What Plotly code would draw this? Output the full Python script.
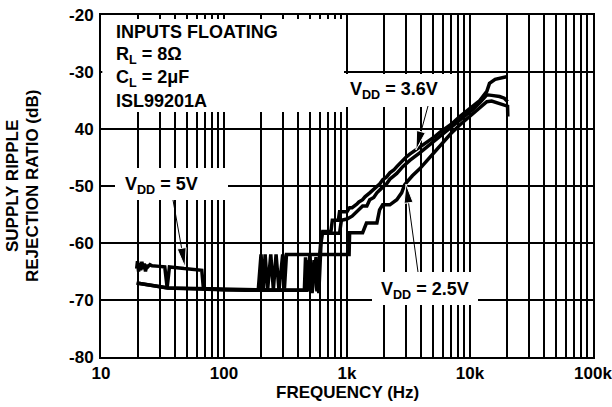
import math
import plotly.graph_objects as go

# ---------------- data ----------------
freq_36 = [19.5, 22, 25, 30, 35, 45, 60, 80, 100, 150, 200, 300, 400, 450, 460, 475, 500, 520, 560, 590,
           615, 635, 700, 740, 760, 850, 870, 1000, 1050, 1100, 1200, 1250, 1340, 1400, 1530, 1600, 1750,
           1850, 1950, 2100, 2230, 2400, 2540, 2700, 2840, 3000, 3240, 3620, 4000, 4700, 5200, 5680, 7000,
           8250, 9300, 10500, 12000, 13700, 14400, 16000, 17400, 19000, 20200]
srr_36 = [-67.0, -67.2, -67.4, -67.7, -67.9, -68.0, -68.1, -68.1, -68.2, -68.2, -68.2, -68.3, -68.3, -68.3,
          -62.5, -68.5, -62.0, -68.8, -62.5, -68.8, -60.0, -58.0, -58.0, -58.0, -56.0, -56.0, -54.5, -54.5,
          -53.8, -53.8, -53.2, -52.8, -52.4, -51.9, -51.2, -50.8, -50.1, -49.6, -48.9, -48.4, -47.7, -47.2,
          -46.6, -46.0, -45.4, -45.0, -44.4, -43.7, -43.0, -41.9, -41.3, -40.6, -39.2, -37.8, -36.9, -36.0,
          -35.0, -33.4, -32.0, -31.3, -31.1, -30.9, -30.8]

freq_5 = [19.5, 19.8, 20.2, 20.6, 21, 21.5, 22, 22.5, 23, 23.5, 24, 25, 26, 27, 30, 33, 34.5, 36, 45, 55,
          66, 68, 80, 100, 150, 200, 300, 400, 470, 490, 510, 540, 570, 600, 620, 700, 870, 900, 1000, 1100,
          1200, 1340, 1450, 1530, 1650, 1750, 1950, 2100, 2230, 2540, 2840, 3240, 3900, 4700, 5680, 7000,
          8250, 10500, 12000, 13000, 13700, 15000, 17400, 19000, 20200]
srr_5 = [-64.5, -63.2, -65.0, -63.5, -64.8, -63.3, -64.6, -63.6, -65.0, -63.8, -64.2, -63.8, -64.0, -64.0,
         -64.1, -64.2, -67.8, -64.2, -64.4, -64.6, -64.8, -68.0, -68.1, -68.2, -68.3, -68.3, -68.3, -68.3,
         -68.3, -63.0, -68.3, -63.0, -68.5, -62.0, -58.3, -58.3, -58.3, -56.0, -55.8, -55.3, -54.5, -53.5,
         -53.5, -52.4, -52.0, -51.2, -50.2, -49.6, -48.8, -47.8, -46.6, -45.5, -44.2, -42.8, -41.4, -39.8,
         -38.5, -36.6, -35.4, -34.6, -34.0, -34.1, -34.3, -34.6, -35.2]

freq_25 = [19.5, 25, 35, 60, 100, 150, 190, 200, 208, 216, 226, 240, 252, 265, 280, 300, 310, 322, 500, 800,
           1040, 1050, 1340, 1440, 1750, 1840, 1950, 2230, 2540, 2780, 2940, 3100, 3400, 3900, 4700, 5680,
           7000, 8250, 10500, 12000, 13700, 15000, 17400, 19500, 20200, 20300]
srr_25 = [-67.0, -67.4, -67.9, -68.0, -68.1, -68.2, -68.2, -62.0, -68.2, -62.0, -68.3, -62.0, -68.2, -62.0,
          -68.3, -62.0, -68.0, -62.0, -62.0, -62.0, -62.0, -58.2, -58.2, -56.5, -56.5, -54.2, -53.3, -53.3,
          -52.4, -51.2, -49.8, -49.2, -48.2, -47.0, -45.0, -43.0, -40.8, -39.3, -37.3, -36.2, -35.2, -35.1,
          -35.5, -35.8, -36.0, -37.8]

x_major = [10, 100, 1000, 10000, 100000]
x_major_text = ["10", "100", "1k", "10k", "100k"]
x_minor = [m * 10 ** d for d in range(1, 5) for m in range(2, 10)]
y_tick_vals = [-80, -70, -60, -50, -40, -30, -20]
y_tick_text = ["-80", "-70", "-60", "-50", "40", "-30", "-20"]

# ---------------- layout geometry (page pixels) ----------------
W, H = 612, 407
L, R, T, B = 101, 593, 15, 357   # plot area
FONT = "Liberation Sans, Arial, Helvetica, sans-serif"
FS = 17


def px(x):
    return (x - L) / (R - L)


def py(y):
    return (B - y) / (B - T)


fig = go.Figure()
for f, s in ((freq_5, srr_5), (freq_36, srr_36), (freq_25, srr_25)):
    fig.add_trace(go.Scatter(x=f, y=s, mode="lines", line=dict(color="black", width=3.5),
                             showlegend=False, hoverinfo="skip"))

shapes = []


def white_box(x0, y0, x1, y1):
    shapes.append(dict(type="rect", xref="paper", yref="paper", x0=px(x0), x1=px(x1), y0=py(y1), y1=py(y0),
                       fillcolor="white", line=dict(width=0), layer="above"))


white_box(102.3, 19, 344, 72)    # condition text box
white_box(102.3, 72, 344, 112)
white_box(343, 74, 455, 107)     # VDD = 3.6V
white_box(115, 168, 228, 200)    # VDD = 5V
white_box(372, 272, 478, 305)    # VDD = 2.5V


def arrow(tail, tip, length=19, width=9):
    dx, dy = tip[0] - tail[0], tip[1] - tail[1]
    n = math.hypot(dx, dy)
    ux, uy = dx / n, dy / n
    bx, by = tip[0] - ux * length, tip[1] - uy * length
    nx, ny = -uy * width / 2, ux * width / 2
    shapes.append(dict(type="line", xref="paper", yref="paper", x0=px(tail[0]), y0=py(tail[1]),
                       x1=px(bx), y1=py(by), line=dict(color="black", width=1), layer="above"))
    pts = [(tip[0], tip[1]), (bx + nx, by + ny), (bx - nx, by - ny)]
    path = "M " + " L ".join(f"{px(a):.5f} {py(b):.5f}" for a, b in pts) + " Z"
    shapes.append(dict(type="path", xref="paper", yref="paper", path=path, fillcolor="black",
                       line=dict(color="white", width=1), layer="above"))


arrow((173, 200), (185, 267))
arrow((428, 106), (416, 150))
arrow((418, 272), (406, 184))

annotations = []


def text(s, x, y, xanchor="left", size=FS, angle=0):
    annotations.append(dict(text=s, xref="paper", yref="paper", x=px(x), y=py(y), xanchor=xanchor,
                            yanchor="middle", showarrow=False, textangle=angle,
                            font=dict(family=FONT, size=size, color="black", weight="bold")))


text("INPUTS FLOATING", 114, 32, size=18)
text("R<sub>L</sub> = 8Ω", 114, 55, size=18)
text("C<sub>L</sub> = 2μF", 114, 78, size=18)
text("ISL99201A", 114, 101, size=18)
text("V<sub>DD</sub> = 5V", 161, 185, xanchor="center", size=18)
text("V<sub>DD</sub> = 3.6V", 394, 90, xanchor="center", size=18)
text("V<sub>DD</sub> = 2.5V", 425, 290, xanchor="center", size=18)
text("FREQUENCY (Hz)", 347, 392, xanchor="center")
text("SUPPLY RIPPLE", 12, 186, xanchor="center", angle=-90)
text("REJECTION RATIO (dB)", 32, 186, xanchor="center", angle=-90)

fig.update_layout(
    width=W, height=H, margin=dict(l=L, r=W - R, t=T, b=H - B),
    paper_bgcolor="white", plot_bgcolor="white", template=None,
    font=dict(family=FONT, size=FS, color="black", weight="bold"),
    shapes=shapes, annotations=annotations, showlegend=False,
)
fig.update_xaxes(
    type="log", range=[1, 5], tickmode="array", tickvals=x_major, ticktext=x_major_text,
    showgrid=True, gridcolor="black", gridwidth=2, zeroline=False,
    minor=dict(tickmode="array", tickvals=x_minor, showgrid=True, gridcolor="black", gridwidth=2,
               ticks=""),
    showline=True, linecolor="black", linewidth=2, mirror=True, ticks="",
    ticklabeloverflow="allow", automargin=False,
    tickfont=dict(family=FONT, size=FS, color="black", weight="bold"),
)
fig.update_yaxes(
    range=[-80, -20], tickmode="array", tickvals=y_tick_vals, ticktext=y_tick_text,
    showgrid=True, gridcolor="black", gridwidth=2, zeroline=False,
    showline=True, linecolor="black", linewidth=2, mirror=True, ticks="",
    ticklabeloverflow="allow", automargin=False, ticklabelstandoff=2,
    tickfont=dict(family=FONT, size=FS, color="black", weight="bold"),
)

fig.write_html("out.html", config={"displayModeBar": False},
               post_script="document.body.style.margin='0';")
